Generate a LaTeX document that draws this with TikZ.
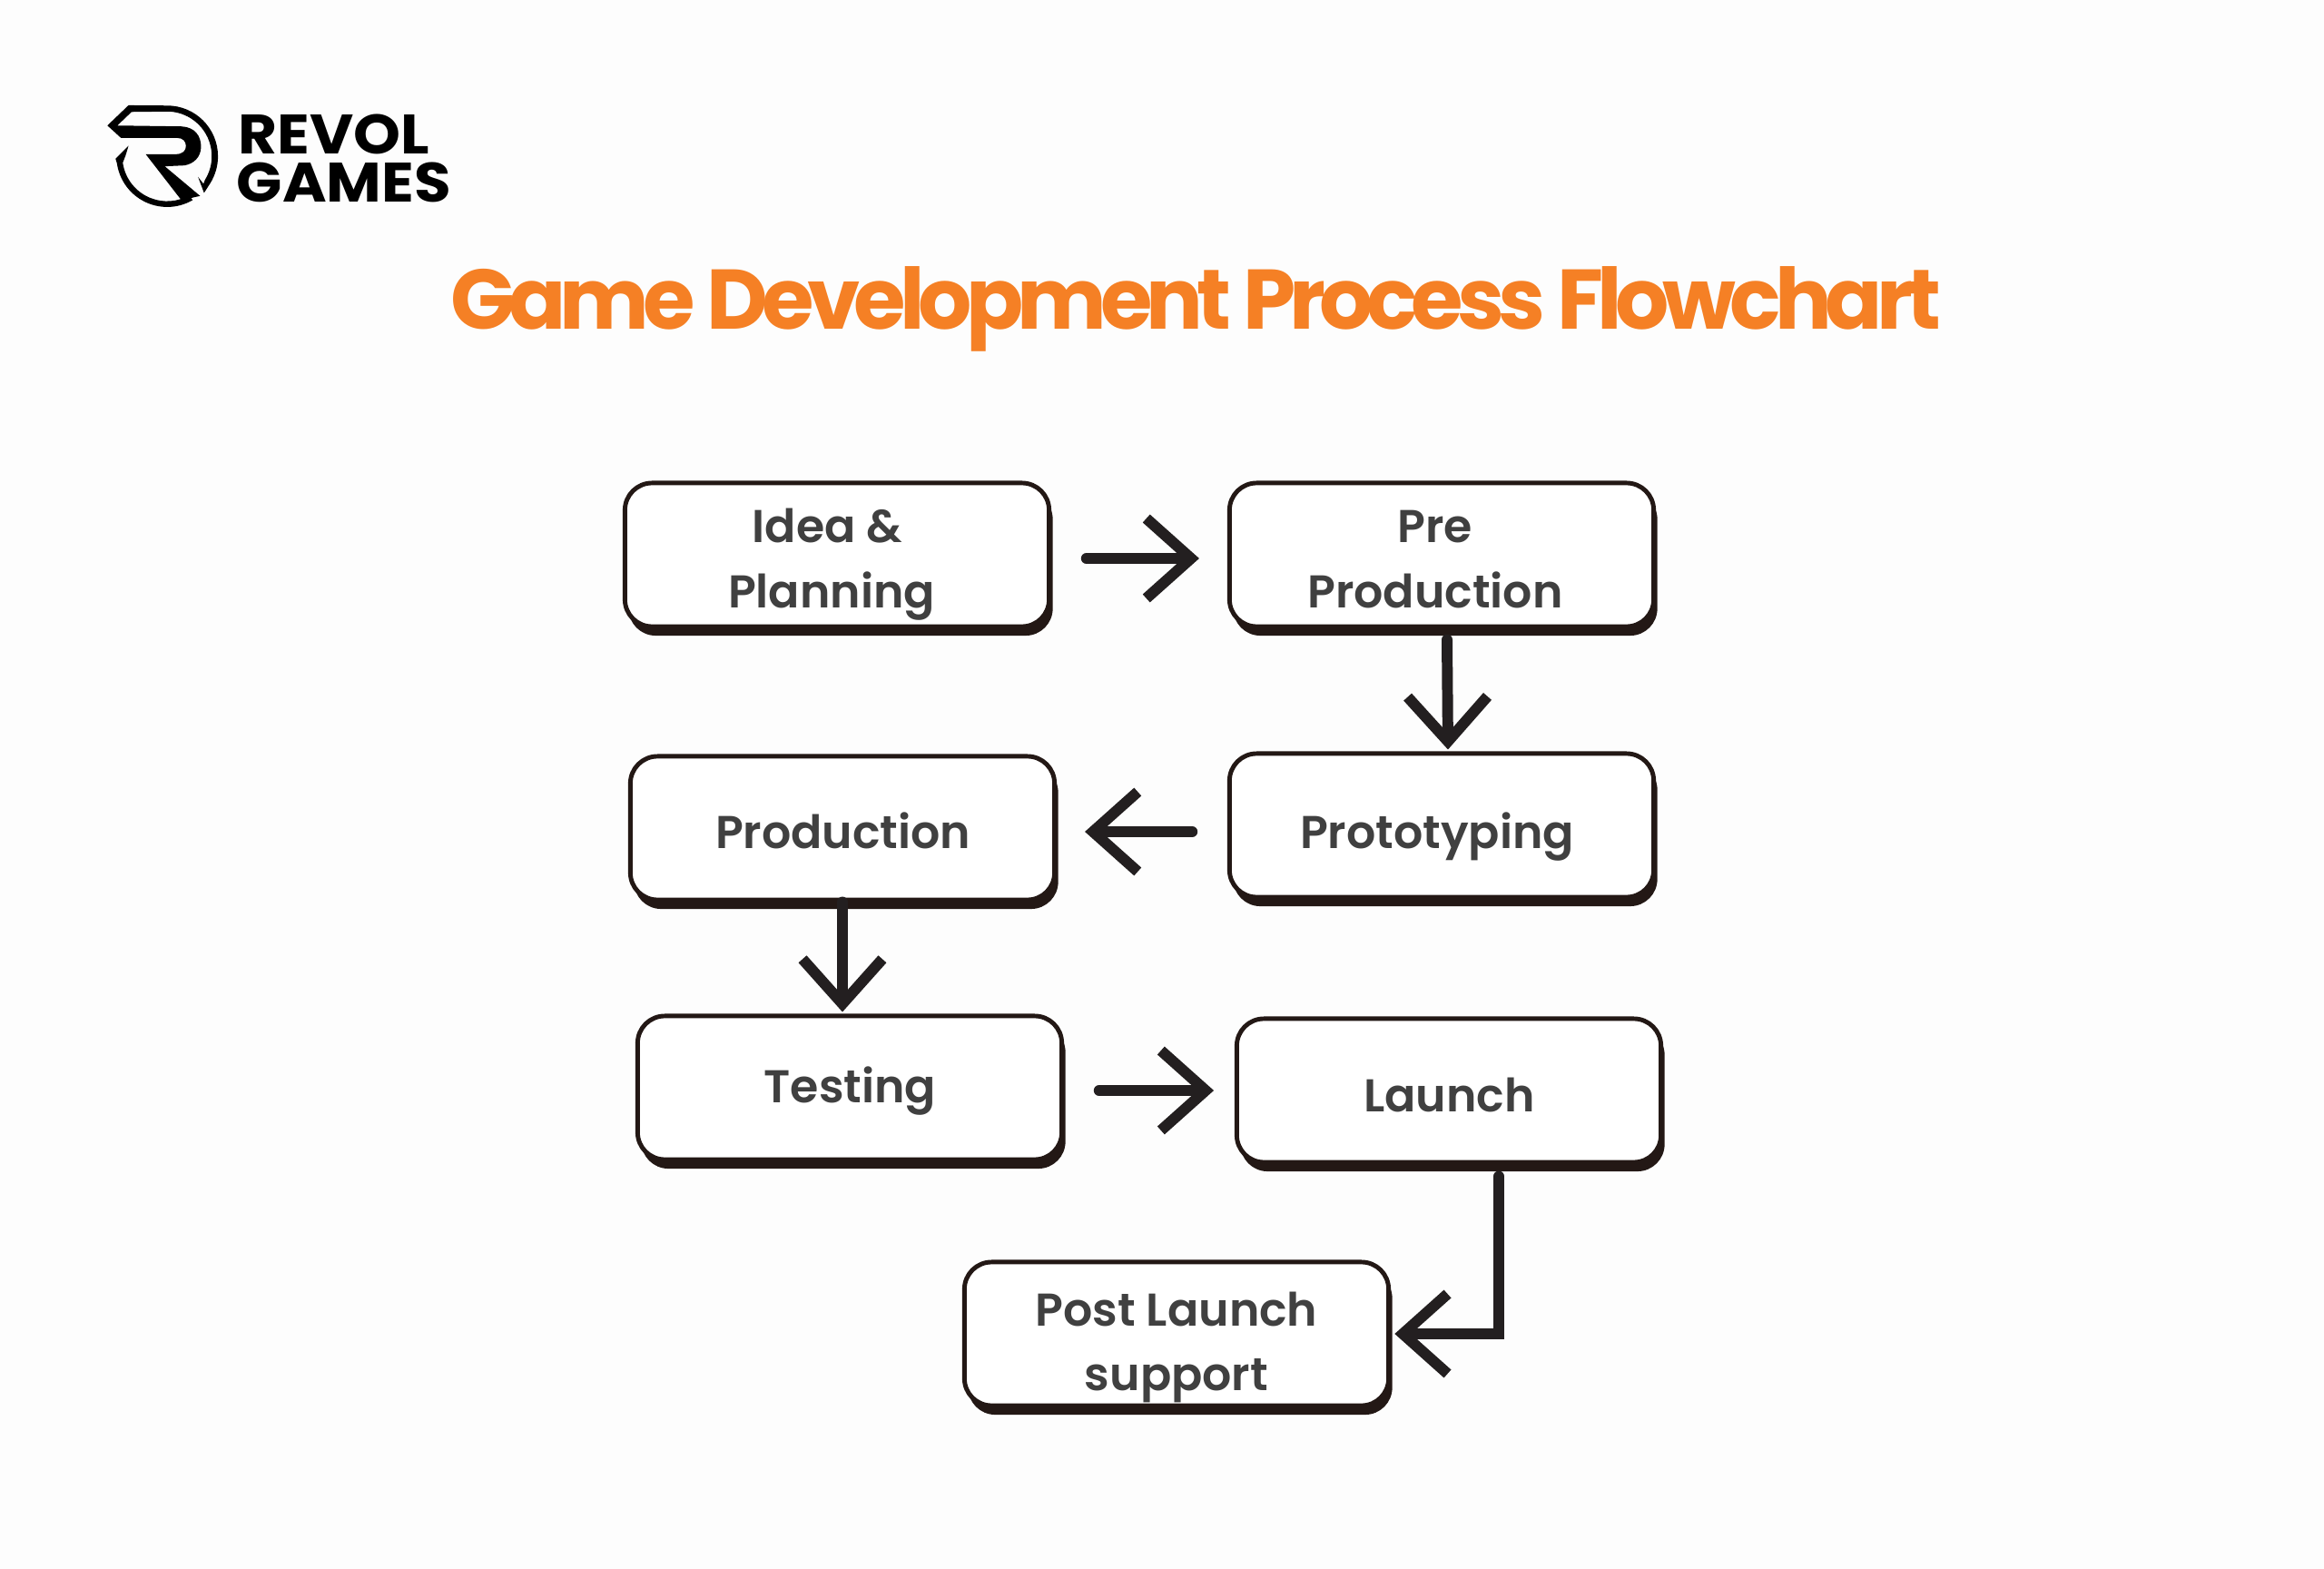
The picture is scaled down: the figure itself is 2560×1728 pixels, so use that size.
\documentclass[tikz,border=0pt]{standalone}
\usepackage{fontspec}
\usepackage{tikz}
\usetikzlibrary{arrows.meta}
\usetikzlibrary{shadows}
\newfontfamily\labelfont{Poppins SemiBold}
\newfontfamily\titlefont[LetterSpace=-7.5]{Poppins Bold}
\newfontfamily\brandfont[FakeStretch=1.08]{Poppins Bold}
\definecolor{pagebg}{HTML}{FDFDFD}
\definecolor{boxedge}{HTML}{231815}
\definecolor{arrowink}{HTML}{231F20}
\definecolor{labelink}{HTML}{404040}
\definecolor{titleink}{HTML}{F58025}
% label line moved off the box centre
\newcommand{\lbl}[3]{\raisebox{#2}[0pt][0pt]{\makebox[0pt]{\hspace*{\dimexpr 2\dimexpr #1\relax\relax}#3}}}
\tikzset{
	flowbox/.style={draw=boxedge, fill=white, line width=1.4pt, rounded corners=8.5pt,
		minimum width=4.67cm, minimum height=1.58cm, inner sep=0pt, align=center, text=labelink,
		font={\labelfont\fontsize{14.4}{20.3}\selectfont},
		general shadow={shadow xshift=0.04cm, shadow yshift=-0.1cm, fill=boxedge}},
	flowarrow/.style={draw=arrowink, line width=3.4pt, line cap=round, shorten <=11pt, shorten >=8.8pt,
		-{Straight Barb[length=14pt, width=25pt, line width=3.4pt]}},
	brandtext/.style={anchor=base west, inner sep=0pt, text=black, font={\brandfont\fontsize{17.4}{20}\selectfont}}
}
\begin{document}
\begin{tikzpicture}[x=0.01cm,y=-0.01cm]
	\useasboundingbox (0,0) rectangle (2560,1728);
	\fill[pagebg] (0,0) rectangle (2560,1728);

	% logo
	\begin{scope}[shift={(90,90)},x=0.00333cm,y=-0.00333cm]
		\fill[black] (85,145) -- (155,78) -- (283,79) arc[start angle=-90,end angle=32,radius=168] -- (405,368) -- (385,315) -- (403,338)
			-- (408,325) arc[start angle=32,end angle=-90,radius=148] -- (165,100) -- (118,145) -- (330,148)
			.. controls (375,150) and (395,180) .. (395,215) .. controls (395,250) and (370,272) .. (340,277) -- (275,280) -- (392,378) -- (330,392) -- (212,240) -- (310,240)
			.. controls (335,240) and (345,228) .. (345,213) .. controls (345,197) and (335,186) .. (315,186) -- (130,186) -- cycle;
		\fill[black] (367,392) arc[start angle=60,end angle=172,radius=168] -- (112,255) -- (155,212) -- (145,245) -- (136,268)
			arc[start angle=172,end angle=60,radius=148] -- cycle;
	\end{scope}
	\node[brandtext] (brandtop) at (262,170) {REVOL};
	\node[brandtext] (brandbottom) at (260,223) {GAMES};

	\node[anchor=base, inner sep=0pt, text=titleink, font={\titlefont\fontsize{26.5}{30}\selectfont}] (title) at (1317,363) {Game Development Process Flowchart};

	% boxes
	\node[flowbox] (idea) at (922,611) {\lbl{-3pt}{-6.4pt}{Idea \&}\\\lbl{-1.7pt}{-6.4pt}{Planning}};
	\node[flowbox] (pre) at (1588,611) {\lbl{-2pt}{-6.4pt}{Pre}\\\lbl{-2pt}{-6.4pt}{Production}};
	\node[flowbox] (proto) at (1588,909) {\lbl{-1.4pt}{-7.3pt}{Prototyping}};
	\node[flowbox] (prod) at (928,912) {\lbl{0.2pt}{-6.5pt}{Production}};
	\node[flowbox] (testing) at (936,1198) {\lbl{0.1pt}{-4.6pt}{Testing}};
	\node[flowbox] (launch) at (1596,1201) {\lbl{0.1pt}{-6.7pt}{Launch}};
	\node[flowbox] (post) at (1296,1469) {\lbl{0pt}{-7.6pt}{Post Launch}\\\lbl{0pt}{-7.6pt}{support}};

	% arrows
	\draw[flowarrow] ([yshift=-0.04cm]idea.east) -- ([yshift=-0.04cm]pre.west);
	\draw[flowarrow, shorten <=0pt, shorten >=0pt] ([xshift=0.06cm,yshift=-0.12cm]pre.south) -- ([xshift=0.07cm,yshift=0.02cm]proto.north);
	\draw[flowarrow] ([yshift=-0.04cm]proto.west |- prod.east) -- ([yshift=-0.04cm]prod.east);
	\draw[flowarrow, shorten <=0pt, shorten >=0pt] (prod.south) -- ([yshift=0.02cm]testing.north -| prod.south);
	\draw[flowarrow, shorten >=6.5pt] ([yshift=-0.03cm]testing.east) -- ([yshift=-0.03cm]launch.west |- testing.east);
	\draw[flowarrow, shorten <=0pt, shorten >=1.2pt] ([xshift=0.55cm,yshift=-0.13cm]launch.south) |- (post.east);
\end{tikzpicture}
\end{document}
